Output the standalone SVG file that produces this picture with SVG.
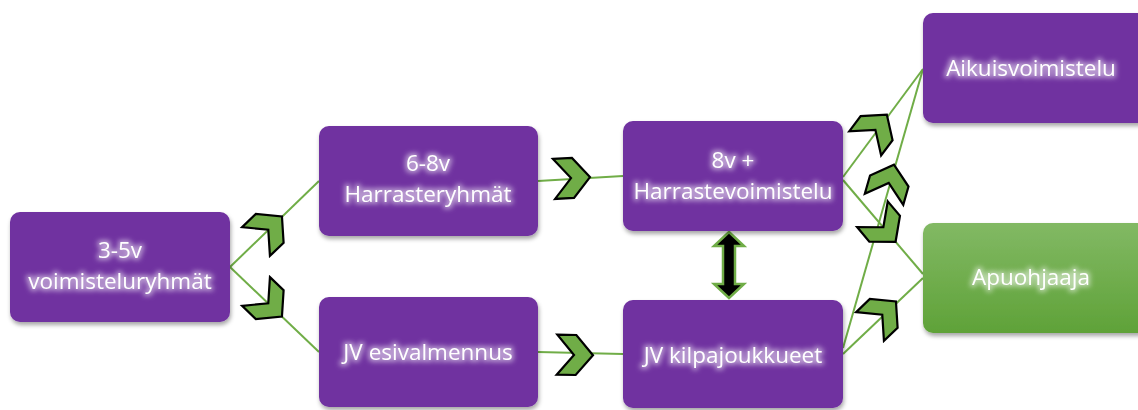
<svg xmlns="http://www.w3.org/2000/svg" width="1138" height="410" viewBox="0 0 1138 410">
<defs>
<style>
.box{fill:#7030a0;filter:url(#sh);}
.gbox{fill:url(#gg);filter:url(#sh);}
.t{font-family:"Open Sans","Liberation Sans",sans-serif;font-size:22.5px;fill:#ffffff;text-anchor:middle;filter:url(#glow);}
.ln{stroke:#70ad47;stroke-width:2;fill:none;}
.chev{fill:#70ad47;stroke:#000;stroke-width:2.2;stroke-linejoin:miter;}
</style>
<linearGradient id="gg" x1="0" y1="0" x2="0" y2="1">
<stop offset="0" stop-color="#82b964"/>
<stop offset="1" stop-color="#5fa238"/>
</linearGradient>
<filter id="sh" x="-10%" y="-10%" width="125%" height="130%">
<feDropShadow dx="1" dy="3" stdDeviation="2" flood-color="#000" flood-opacity="0.35"/>
</filter>
<filter id="glow" x="-20%" y="-40%" width="140%" height="180%">
<feMorphology in="SourceAlpha" operator="dilate" radius="1.5" result="d"/>
<feGaussianBlur in="d" stdDeviation="2.5" result="b"/>
<feFlood flood-color="#ffffff" flood-opacity="0.5"/>
<feComposite in2="b" operator="in" result="g"/>
<feMerge><feMergeNode in="g"/><feMergeNode in="SourceGraphic"/></feMerge>
</filter>
<polygon id="cv" points="-18,-20 1,-20 18,0 1,20 -18,20 -1,0"/>
</defs>
<g id="connectors">
<line class="ln" x1="230" y1="267" x2="319" y2="181"/>
<line class="ln" x1="230" y1="267" x2="319" y2="352"/>
<line class="ln" x1="538" y1="181" x2="623" y2="176"/>
<line class="ln" x1="538" y1="352" x2="623" y2="354"/>
<line class="ln" x1="843" y1="177" x2="923" y2="69"/>
<line class="ln" x1="843" y1="180" x2="923" y2="274"/>
<line class="ln" x1="843" y1="348" x2="923" y2="69"/>
<line class="ln" x1="843" y1="354" x2="923" y2="278"/>
<use href="#cv" class="chev" transform="translate(269,229) rotate(-44)"/>
<use href="#cv" class="chev" transform="translate(269,304) rotate(44)"/>
<use href="#cv" class="chev" transform="translate(572,178) rotate(-3)"/>
<use href="#cv" class="chev" transform="translate(575,355) rotate(1)"/>
<use href="#cv" class="chev" transform="translate(876,129) rotate(-53)"/>
<use href="#cv" class="chev" transform="translate(889,182) rotate(-74)"/>
<use href="#cv" class="chev" transform="translate(884,228) rotate(50)"/>
<use href="#cv" class="chev" transform="translate(883,314) rotate(-44)"/>
<polygon points="729,232 744,246 735,246 735,284 744,284 729,298 714,284 723,284 723,246 714,246" fill="#000" stroke="#70ad47" stroke-width="2.5" stroke-linejoin="miter"/>
</g>
<g id="n35">
<rect class="box" x="10" y="212" width="220" height="110" rx="10"/>
<text class="t" x="120" y="258">3-5v</text>
<text class="t" x="120" y="289">voimisteluryhmät</text>
</g>
<g id="n68">
<rect class="box" x="319" y="126" width="219" height="110" rx="10"/>
<text class="t" x="428" y="171">6-8v</text>
<text class="t" x="428" y="202">Harrasteryhmät</text>
</g>
<g id="njvesi">
<rect class="box" x="319" y="297" width="219" height="110" rx="10"/>
<text class="t" x="428" y="360">JV esivalmennus</text>
</g>
<g id="n8v">
<rect class="box" x="623" y="121" width="220" height="110" rx="10"/>
<text class="t" x="733" y="168">8v +</text>
<text class="t" x="733" y="199">Harrastevoimistelu</text>
</g>
<g id="nkilpa">
<rect class="box" x="623" y="300" width="220" height="108" rx="10"/>
<text class="t" x="733" y="363">JV kilpajoukkueet</text>
</g>
<g id="naikuis">
<rect class="box" x="923" y="13" width="225" height="110" rx="10"/>
<text class="t" x="1031" y="76">Aikuisvoimistelu</text>
</g>
<g id="napu">
<rect class="gbox" x="923" y="223" width="225" height="110" rx="10"/>
<text class="t" x="1031" y="285">Apuohjaaja</text>
</g>
</svg>
